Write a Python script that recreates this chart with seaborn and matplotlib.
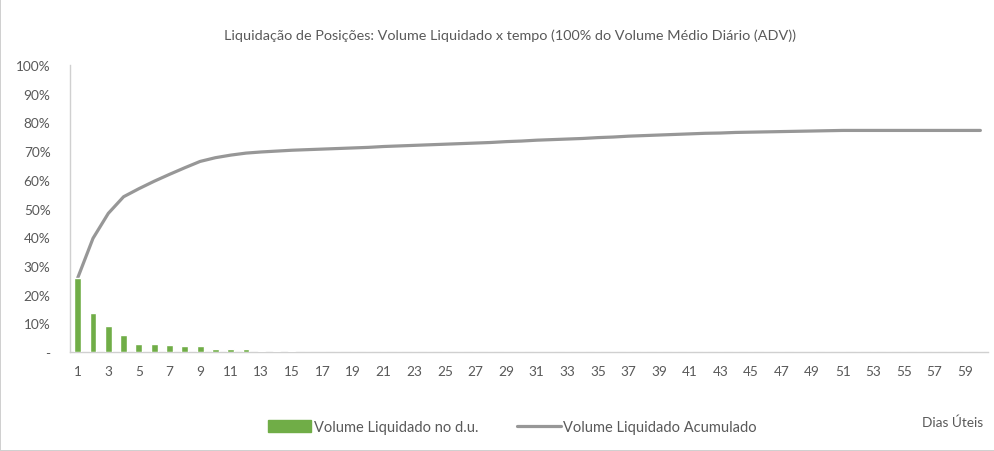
import matplotlib
matplotlib.use("Agg")
import matplotlib.pyplot as plt
import matplotlib.patches as mpatches
import matplotlib.lines as mlines
from matplotlib.ticker import FuncFormatter
import numpy as np
import pandas as pd
import seaborn as sns

# Business days
dias = list(range(1, 61))

# Share of the position liquidated on each business day (%)
volume_dia = [25.8, 13.6, 8.9, 5.8, 2.7, 2.7, 2.5, 2.2, 2.2, 1.2,
              0.9, 0.9, 0.4, 0.4, 0.4] + [0.0] * 45

# Cumulative share liquidated (%)
volume_acumulado = [25.8, 39.6, 48.3, 54.1, 56.9, 59.5, 61.9, 64.2, 66.4, 67.7,
                    68.6, 69.3, 69.7, 70.0, 70.3, 70.5, 70.7, 70.9, 71.1, 71.3,
                    71.6, 71.8, 72.0, 72.2, 72.4, 72.6, 72.8, 73.0, 73.3, 73.5,
                    73.8, 74.0, 74.2, 74.4, 74.7, 74.9, 75.2, 75.4, 75.6, 75.8,
                    76.0, 76.2, 76.3, 76.5, 76.6, 76.7, 76.8, 76.9, 77.0, 77.1,
                    77.2, 77.2, 77.2, 77.2, 77.2, 77.2, 77.2, 77.2, 77.2, 77.2]

titulo = "Liquidação de Posições: Volume Liquidado x tempo (100% do Volume Médio Diário (ADV))"
rotulo_barras = "Volume Liquidado no d.u."
rotulo_linha = "Volume Liquidado Acumulado"
rotulo_x = "Dias Úteis"

VERDE = "#70AD47"
VERDE_CLARO = "#C5DEB5"
CINZA_LINHA = "#979797"
CINZA_TEXTO = "#595959"
CINZA_EIXO = "#D0D0D0"

df = pd.DataFrame({"dia": dias, "diario": volume_dia, "acumulado": volume_acumulado})

sns.set_theme(style="white")
plt.rcParams["font.family"] = ["Lato", "DejaVu Sans"]

fig = plt.figure(figsize=(9.95, 4.52), dpi=100)
fig.patch.set_facecolor("white")
fig.patch.set_edgecolor(CINZA_EIXO)
fig.patch.set_linewidth(1.2)

ax = fig.add_axes([0.0704, 0.219, 0.9226, 0.635])

sns.barplot(data=df, x="dia", y="diario", native_scale=True, color=VERDE,
            saturation=1, width=0.45, ax=ax, zorder=4)
sns.lineplot(data=df, x="dia", y="acumulado", color=CINZA_LINHA, lw=2.3,
             ax=ax, zorder=3)

ax.set_xlim(0.5, 60.5)
ax.set_ylim(0, 100)
ax.set_yticks(range(0, 101, 10))
ax.yaxis.set_major_formatter(FuncFormatter(lambda v, _: "-" if v == 0 else f"{v:.0f}%"))
ax.set_xticks(dias[::2])
ax.set_xticklabels([str(d) for d in dias[::2]])
ax.tick_params(axis="both", length=0, colors=CINZA_TEXTO, labelsize=9.8)
ax.tick_params(axis="x", pad=9)
ax.tick_params(axis="y", pad=14)
for lbl in ax.get_yticklabels():
    lbl.set_horizontalalignment("right")

ax.set_xlabel("")
ax.set_ylabel("")
for side in ["top", "right"]:
    ax.spines[side].set_visible(False)
for side in ["left", "bottom"]:
    ax.spines[side].set_color(CINZA_EIXO)
    ax.spines[side].set_linewidth(1.0)
    ax.spines[side].set_zorder(2)

fig.text(0.513, 0.922, titulo, ha="center", va="center", fontsize=10.4,
         color=CINZA_TEXTO)
fig.text(0.9575, 0.064, rotulo_x, ha="center", va="center", fontsize=9.8,
         color=CINZA_TEXTO)

handles = [mpatches.Patch(color=VERDE, label=rotulo_barras),
           mlines.Line2D([], [], color=CINZA_LINHA, lw=2.3, label=rotulo_linha)]
fig.legend(handles=handles, loc="center", bbox_to_anchor=(0.515, 0.053),
           ncol=2, frameon=False, fontsize=10.5, labelcolor=CINZA_TEXTO,
           handlelength=3.0, handletextpad=0.2, columnspacing=2.6,
           handleheight=0.8)

fig.savefig("out.png", dpi=100, facecolor=fig.get_facecolor(),
            edgecolor=fig.get_edgecolor())
